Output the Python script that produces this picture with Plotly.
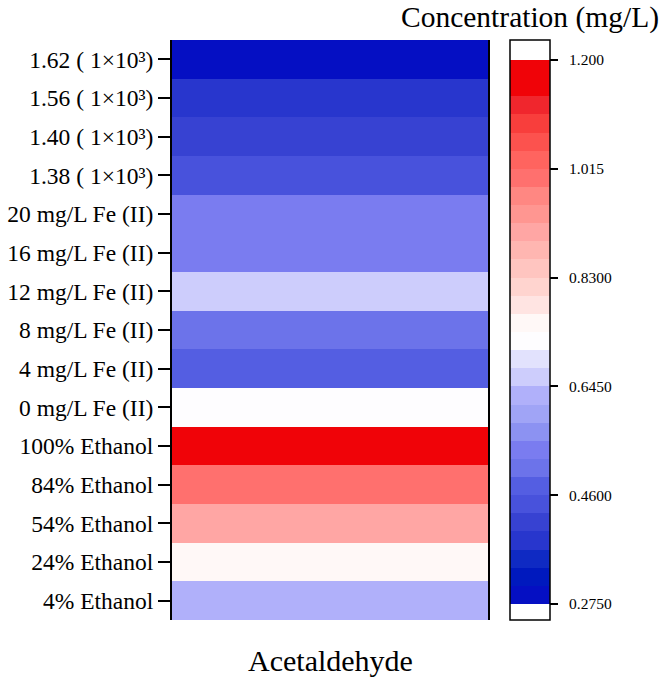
import plotly.graph_objects as go

# ---- data ----
row_labels = [
    "1.62 ( 1×10³)", "1.56 ( 1×10³)", "1.40 ( 1×10³)", "1.38 ( 1×10³)",
    "20 mg/L Fe (II)", "16 mg/L Fe (II)", "12 mg/L Fe (II)", "8 mg/L Fe (II)",
    "4 mg/L Fe (II)", "0 mg/L Fe (II)",
    "100% Ethanol", "84% Ethanol", "54% Ethanol", "24% Ethanol", "4% Ethanol",
]
acetaldehyde = [0.29, 0.38, 0.415, 0.445, 0.535, 0.535, 0.665, 0.505, 0.475, 0.72,
                1.19, 1.01, 0.91, 0.76, 0.62]
column_labels = ["Acetaldehyde"]
cbar_ticks = [0.275, 0.46, 0.645, 0.83, 1.015, 1.2]
cbar_ticktext = ["0.2750", "0.4600", "0.6450", "0.8300", "1.015", "1.200"]

# ---- discrete colour scale (30 bands from 0.275 to 1.2) ----
band_colors = [
    (5, 15, 195), (0, 25, 190), (15, 42, 195), (40, 54, 205), (55, 66, 210),
    (72, 82, 220), (84, 94, 226), (108, 115, 234), (122, 124, 240), (140, 146, 242),
    (160, 164, 246), (176, 176, 250), (205, 205, 252), (226, 226, 253), (254, 253, 255),
    (255, 248, 247), (255, 228, 226), (255, 212, 207), (255, 197, 192), (255, 182, 177),
    (255, 166, 164), (255, 150, 145), (255, 135, 130), (255, 112, 110), (255, 100, 95),
    (252, 82, 78), (248, 62, 60), (240, 38, 45), (240, 3, 8), (240, 3, 8),
]
vmin, vmax = cbar_ticks[0], cbar_ticks[-1]
zmin = vmin - 16 / 588
zmax = vmax + 20 / 588
def norm(v):
    return (v - zmin) / (zmax - zmin)
n = len(band_colors)
w = (vmax - vmin) / n
cs = [[0.0, "rgb(255,255,255)"], [norm(vmin), "rgb(255,255,255)"]]
for k, c in enumerate(band_colors):
    col = "rgb(%d,%d,%d)" % c
    cs.append([norm(vmin + k * w), col])
    cs.append([norm(vmin + (k + 1) * w), col])
cs.append([norm(vmax), "rgb(255,255,255)"])
cs.append([1.0, "rgb(255,255,255)"])

FONT = "Liberation Serif"
NB = "\u00a0\u00a0"
# plot-area pixel targets (page coords): x 172..488, y 40..620 (body margin removed)
W, H = 661, 677
L, R = 172, W - 488
T, B = 40, H - 620
PW, PH = W - L - R, H - T - B

fig = go.Figure(go.Heatmap(
    z=[[v] for v in acetaldehyde],
    x=column_labels,
    y=row_labels,
    zmin=zmin, zmax=zmax,
    colorscale=cs,
    xgap=0, ygap=0,
    hoverinfo="skip",
    colorbar=dict(
        tickvals=cbar_ticks, ticktext=[NB + t for t in cbar_ticktext],
        ticks="outside", ticklen=8, tickwidth=1.5, tickcolor="black",
        tickfont=dict(family=FONT, size=15.5, color="black"),
        outlinewidth=1.5, outlinecolor="black",
        thickness=40, thicknessmode="pixels",
        len=580, lenmode="pixels",
        x=(510 - 172) / PW, xanchor="left", xref="paper",
        y=0.5, yanchor="middle",
        xpad=0, ypad=0,
    ),
))

fig.update_layout(
    width=W, height=H,
    margin=dict(l=L, r=R, t=T, b=B, autoexpand=False),
    paper_bgcolor="white", plot_bgcolor="white",
    font=dict(family=FONT, color="black"),
    xaxis=dict(showticklabels=False, showline=False, ticks="", showgrid=False,
               zeroline=False, automargin=False),
    yaxis=dict(autorange="reversed", showline=True, mirror=True, linecolor="black",
               linewidth=2, ticks="outside", ticklen=12, tickwidth=2, tickcolor="black",
               automargin=False,
               tickfont=dict(family=FONT, size=23.5, color="black"), showgrid=False,
               zeroline=False),
    annotations=[
        dict(text="Concentration (mg/L)", xref="paper", yref="paper",
             x=(661 - 172) / PW, y=(620 - 17) / PH, xanchor="right", yanchor="middle",
             showarrow=False, font=dict(family=FONT, size=29.5, color="black")),
        dict(text="Acetaldehyde", xref="paper", yref="paper",
             x=0.5, y=-(660 - 620) / PH, xanchor="center", yanchor="middle",
             showarrow=False, font=dict(family=FONT, size=30, color="black")),
    ],
)

fig.write_html("out.html", config={"displayModeBar": False},
               post_script="document.body.style.margin='0px';document.body.style.padding='0px';")
